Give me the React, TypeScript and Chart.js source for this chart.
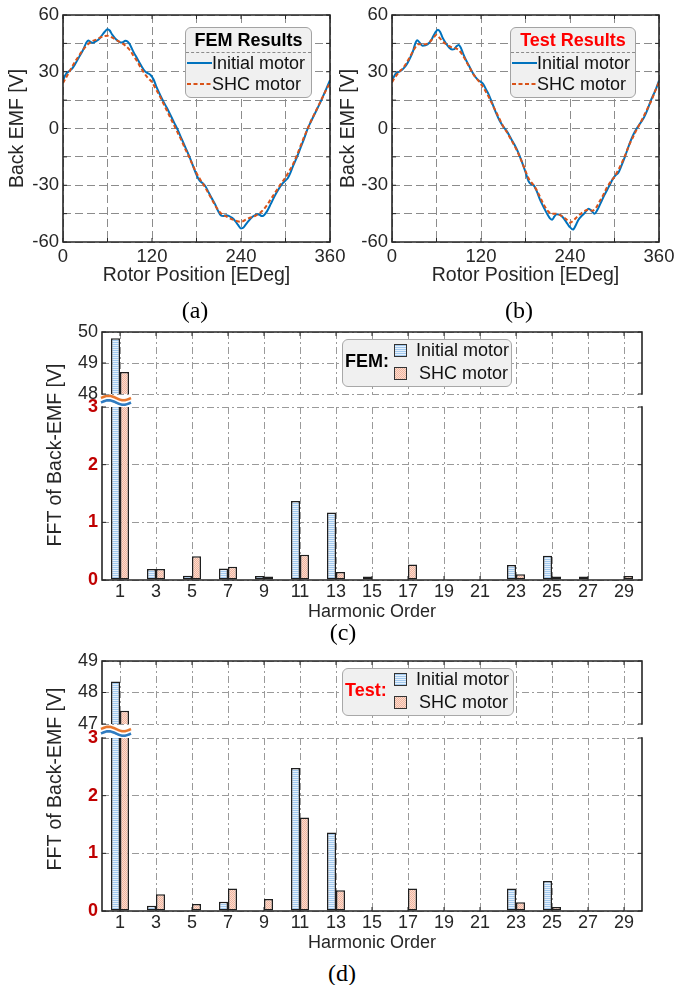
import React, { useEffect, useRef } from 'react';
import { Chart, registerables } from 'chart.js';

Chart.register(...registerables);

const SANS = '"Liberation Sans", Arial, Helvetica, sans-serif';
const SERIF = '"Liberation Serif", "Times New Roman", Times, serif';
const TEXT = '#262626';
const BLUE = '#0072BD';
const ORANGE = '#D95319';
const LOW_RED = '#C00000';
const GRID_A = '#8c8c8c';
const GRID_C = '#9a9a9a';
const BAR_EDGE = '#1f1f1f';

type Pt = [number, number];

// ---------- series names ----------
const seriesNames = ['Initial motor', 'SHC motor'];

// ---------- (a) FEM back-EMF vs rotor position [EDeg, V] ----------
const femInitialCurve: Pt[] = [
  [0, 25.5], [4, 28.8], [8, 30.2], [12, 31.5], [17, 34.5], [22, 38], [27, 41.5], [31, 45], [34, 46.5],
  [37, 45.8], [40, 45.3], [44, 46], [48, 47], [52, 49], [56, 51], [60, 52.5], [63, 51.8], [66, 49.8],
  [70, 47.8], [74, 46.3], [78, 45.4], [81, 45.6], [84, 46.4], [87, 46], [90, 44.5], [95, 40.5], [100, 37],
  [105, 33.5], [110, 30.5], [114, 29.3], [118, 28.3], [122, 26], [126, 22], [130, 18.5], [135, 14.5],
  [140, 11], [145, 7], [150, 3], [155, -1], [160, -5.5], [165, -10], [170, -14.5], [175, -19.5], [180, -24.5],
  [184, -27.5], [188, -28.8], [192, -30.5], [196, -33.5], [200, -36.5], [205, -40], [209, -43.5], [213, -46],
  [216, -46.3], [220, -45.8], [224, -46.3], [228, -47.2], [232, -48.8], [236, -51], [240, -52.8], [243, -52.5],
  [246, -51], [250, -49], [254, -47.2], [258, -46], [262, -45.3], [265, -45.6], [268, -46.3], [271, -45.8],
  [275, -43.8], [280, -40], [285, -36], [290, -32.5], [295, -29.5], [300, -27.5], [303, -26.3], [306, -24],
  [310, -20], [315, -15.5], [320, -10.5], [325, -5.5], [330, 0], [335, 4.2], [340, 8.2], [345, 12.2],
  [350, 16.5], [355, 21], [360, 25.5],
];
const femShcCurve: Pt[] = [
  [0, 24], [5, 27.5], [10, 31], [15, 34.5], [20, 37.5], [25, 40.5], [30, 43], [35, 45], [40, 46.3], [45, 47],
  [50, 48], [55, 48.8], [60, 49], [65, 48.3], [70, 47.3], [75, 46], [80, 45], [85, 43.5], [90, 41.5],
  [95, 38.5], [100, 35.5], [105, 32], [110, 29], [115, 26.5], [120, 24.5], [125, 21], [130, 17.5],
  [135, 13.5], [140, 9.5], [145, 5.5], [150, 1.5], [155, -2.5], [160, -6.5], [165, -11], [170, -15],
  [175, -19.5], [180, -23.5], [185, -27], [190, -30], [195, -33.5], [200, -37], [205, -40.5], [210, -43.5],
  [215, -45.5], [220, -46.5], [225, -47.5], [230, -48.3], [235, -49], [240, -49.3], [245, -48.5],
  [250, -47.5], [255, -46.8], [260, -46], [265, -44.8], [270, -43], [275, -40.5], [280, -37.5],
  [285, -34.5], [290, -31.5], [295, -28.5], [300, -26], [305, -22.5], [310, -19], [315, -14.5], [320, -9.5],
  [325, -4.5], [330, 0], [335, 4.5], [340, 8.5], [345, 12.5], [350, 16.5], [355, 20.5], [360, 24],
];

// ---------- (b) Test back-EMF vs rotor position ----------
const testInitialCurve: Pt[] = [
  [0, 25.3], [5, 29], [10, 30], [15, 31.5], [20, 34], [24, 37], [28, 40.5], [31, 44.5], [34, 46.7],
  [37, 45.5], [41, 43.8], [45, 44], [50, 45.2], [54, 47.5], [58, 50.5], [62, 52.2], [65, 51], [68, 48.2],
  [72, 45.5], [77, 42.8], [81, 41.8], [84, 42], [87, 43.5], [90, 44.2], [93, 42.5], [96, 39.5], [100, 36],
  [104, 33], [108, 30], [112, 27.5], [116, 25.7], [120, 24.6], [123, 23.5], [127, 20.5], [131, 17.4],
  [135, 13.5], [140, 8.5], [145, 4.2], [150, 1], [155, -1.5], [160, -5], [165, -8.5], [170, -12.5],
  [175, -17.5], [180, -23], [184, -27.8], [188, -29.5], [191, -30], [195, -33], [200, -38], [205, -42],
  [209, -45], [213, -47.5], [216, -48.2], [219, -46.5], [222, -45.3], [226, -45.5], [230, -46.8],
  [235, -49.5], [239, -51.8], [244, -53.4], [248, -51], [251, -48.5], [255, -46.5], [259, -45], [262, -43.5],
  [265, -42.4], [269, -43.5], [273, -45], [277, -43], [281, -39.7], [286, -35.5], [292, -31], [298, -26.5],
  [302, -24.5], [305, -23.5], [309, -20], [314, -15], [318, -10.5], [323, -5.4], [327, -2], [331, 0.7],
  [336, 3.5], [340, 6], [345, 10.5], [349, 14.8], [355, 20], [360, 25.3],
];
const testShcCurve: Pt[] = [
  [0, 24.5], [5, 27.5], [10, 30], [15, 32], [20, 35], [25, 38.5], [30, 42], [35, 44.5], [40, 44.5],
  [45, 44.5], [50, 45.5], [55, 47.5], [60, 49.5], [65, 47.5], [70, 45.5], [75, 44], [80, 43], [85, 42.5],
  [90, 41.5], [95, 39], [100, 35.5], [105, 32], [110, 28.5], [115, 26], [120, 23.5], [125, 20.5], [130, 17],
  [135, 13], [140, 9], [145, 5], [150, 1], [155, -2], [160, -5.5], [165, -9], [170, -13], [175, -17.5],
  [180, -22.5], [185, -27], [190, -29.5], [195, -32.5], [200, -36.5], [205, -40.5], [210, -43.5], [215, -45],
  [220, -45], [225, -45.5], [230, -46.5], [235, -48], [240, -49.8], [245, -48.5], [250, -46.5], [255, -45],
  [260, -43.5], [265, -43], [270, -43.5], [275, -42], [280, -38.5], [285, -35], [290, -31], [295, -28],
  [300, -25.5], [305, -22], [310, -18], [315, -13.5], [320, -8.5], [325, -4.5], [330, -0.5], [335, 3],
  [340, 7], [345, 11], [350, 15], [355, 20], [360, 24.5],
];

const emfTickLabels = [-60, -30, 0, 30, 60];
const posTickLabels = [0, 120, 240, 360];

// ---------- (c)/(d) harmonic spectra ----------
const harmonicOrders = ['1', '3', '5', '7', '9', '11', '13', '15', '17', '19', '21', '23', '25', '27', '29'];
const fftFemInitial = [49.8, 0.19, 0.075, 0.2, 0.07, 1.37, 1.17, 0.06, 0, 0, 0, 0.26, 0.42, 0.06, 0];
const fftFemShc = [48.71, 0.19, 0.41, 0.23, 0.06, 0.44, 0.14, 0, 0.27, 0, 0, 0.1, 0.06, 0, 0.07];
const fftTestInitial = [48.35, 0.09, 0, 0.16, 0, 2.48, 1.36, 0, 0, 0, 0, 0.39, 0.52, 0, 0];
const fftTestShc = [47.42, 0.29, 0.12, 0.39, 0.21, 1.62, 0.36, 0, 0.39, 0, 0, 0.15, 0.07, 0, 0];
const fftLowerTicks = [0, 1, 2, 3];
const fftFemUpperTicks = [48, 49, 50];
const fftTestUpperTicks = [47, 48, 49];

// ---------- helpers ----------
const toXY = (c: Pt[]) => c.map(([x, y]) => ({ x, y }));
const zeroPad = (s: any) => {
  s.paddingLeft = 0; s.paddingRight = 0; s.paddingTop = 0; s.paddingBottom = 0;
};

function makePatterns() {
  const mk = (w: number, h: number, draw: (g: CanvasRenderingContext2D) => void) => {
    const c = document.createElement('canvas');
    c.width = w; c.height = h;
    const g = c.getContext('2d')!;
    draw(g);
    return g.createPattern(c, 'repeat')!;
  };
  const blue = mk(4, 2, (g) => {
    g.fillStyle = '#e6f1fc'; g.fillRect(0, 0, 4, 2);
    g.fillStyle = '#a2c9ee'; g.fillRect(0, 0, 4, 1);
  });
  const pink = mk(2, 2, (g) => {
    g.fillStyle = '#fcdccf'; g.fillRect(0, 0, 2, 2);
    g.fillStyle = '#efb49e'; g.fillRect(0, 0, 1, 1); g.fillRect(1, 1, 1, 1);
  });
  return { blue, pink };
}

function framePlugin(sides: { top?: boolean; right?: boolean; bottom?: boolean; left?: boolean }, tickLen = 4) {
  return {
    id: 'frame',
    afterDatasetsDraw(chart: any) {
      const { ctx, chartArea: a, scales } = chart;
      ctx.save();
      ctx.setLineDash([]);
      ctx.strokeStyle = TEXT;
      ctx.lineWidth = 1;
      ctx.beginPath();
      const xs = scales.x;
      xs.ticks.forEach((_: any, i: number) => {
        const px = xs.getPixelForTick(i);
        if (sides.bottom) { ctx.moveTo(px, a.bottom); ctx.lineTo(px, a.bottom - tickLen); }
        if (sides.top) { ctx.moveTo(px, a.top); ctx.lineTo(px, a.top + tickLen); }
      });
      const ys = scales.y;
      ys.ticks.forEach((_: any, i: number) => {
        const py = ys.getPixelForTick(i);
        if (sides.left) { ctx.moveTo(a.left, py); ctx.lineTo(a.left + tickLen, py); }
        if (sides.right) { ctx.moveTo(a.right, py); ctx.lineTo(a.right - tickLen, py); }
      });
      ctx.stroke();
      ctx.lineWidth = 1.6;
      ctx.lineCap = 'square';
      ctx.beginPath();
      if (sides.top) { ctx.moveTo(a.left, a.top); ctx.lineTo(a.right, a.top); }
      if (sides.bottom) { ctx.moveTo(a.left, a.bottom); ctx.lineTo(a.right, a.bottom); }
      if (sides.left) { ctx.moveTo(a.left, a.top); ctx.lineTo(a.left, a.bottom); }
      if (sides.right) { ctx.moveTo(a.right, a.top); ctx.lineTo(a.right, a.bottom); }
      ctx.stroke();
      ctx.restore();
    },
  };
}

// axis-break symbol drawn in the gap above the lower panel
const breakPlugin = {
  id: 'axisBreak',
  afterDraw(chart: any) {
    const { ctx, chartArea: a } = chart;
    const x0 = a.left - 1;
    const len = 30;
    const amp = 2.2;
    const wave = (cy: number, color: string) => {
      ctx.beginPath();
      for (let i = 0; i <= 40; i++) {
        const t = i / 40;
        const x = x0 + len * t;
        const y = cy - amp * Math.sin(2 * Math.PI * t);
        if (i === 0) ctx.moveTo(x, y); else ctx.lineTo(x, y);
      }
      ctx.strokeStyle = color;
      ctx.lineWidth = 2.6;
      ctx.stroke();
    };
    ctx.save();
    ctx.setLineDash([]);
    ctx.lineCap = 'butt';
    wave(a.top - 9, '#E8772E');
    wave(a.top - 4.5, '#2F7BC0');
    ctx.restore();
  },
};

function emfConfig(initial: Pt[], shc: Pt[], yAxisWidth: number, yTitlePad: number, rightPad: number) {
  return {
    type: 'line',
    data: {
      datasets: [
        { label: seriesNames[0], data: toXY(initial), borderColor: BLUE, borderWidth: 2, pointRadius: 0, cubicInterpolationMode: 'monotone', order: 1 },
        { label: seriesNames[1], data: toXY(shc), borderColor: ORANGE, borderWidth: 2, borderDash: [4, 2.5], pointRadius: 0, cubicInterpolationMode: 'monotone', order: 0 },
      ],
    },
    options: {
      animation: false,
      responsive: false,
      devicePixelRatio: 1,
      events: [],
      layout: { padding: { left: 0, top: 12, right: rightPad, bottom: 0 } },
      plugins: { legend: { display: false }, tooltip: { enabled: false } },
      scales: {
        x: {
          type: 'linear',
          min: posTickLabels[0],
          max: posTickLabels[posTickLabels.length - 1],
          afterFit: (s: any) => { s.height = 48; zeroPad(s); },
          grid: { color: GRID_A, lineWidth: 1, drawTicks: false },
          border: { display: false, dash: [8, 4] },
          ticks: {
            stepSize: 60, autoSkip: false, maxRotation: 0, padding: 4, color: TEXT,
            font: { family: SANS, size: 18.5 },
            callback: (v: number) => (posTickLabels.includes(v) ? String(v) : ''),
          },
          title: { display: true, text: 'Rotor Position [EDeg]', color: TEXT, font: { family: SANS, size: 19.5 }, padding: { top: 0, bottom: 3 } },
        },
        y: {
          min: emfTickLabels[0],
          max: emfTickLabels[emfTickLabels.length - 1],
          afterFit: (s: any) => { s.width = yAxisWidth; zeroPad(s); },
          grid: { color: GRID_A, lineWidth: 1, drawTicks: false },
          border: { display: false, dash: [8, 4] },
          ticks: {
            stepSize: 15, padding: 4, color: TEXT,
            font: { family: SANS, size: 18.5 },
            callback: (v: number) => (emfTickLabels.includes(v) ? String(v) : ''),
          },
          title: { display: true, text: 'Back EMF [V]', color: TEXT, font: { family: SANS, size: 19.5 }, padding: { top: yTitlePad, bottom: 0 } },
        },
      },
    },
    plugins: [framePlugin({ top: true, right: true, bottom: true, left: true })],
  };
}

function fftConfig(initial: number[], shc: number[], lower: boolean, yTicks: number[]) {
  const pat = makePatterns();
  return {
    type: 'bar',
    data: {
      labels: harmonicOrders,
      datasets: [
        { label: seriesNames[0], data: initial, backgroundColor: pat.blue, borderColor: BAR_EDGE, borderWidth: 1.5, borderSkipped: false, categoryPercentage: 0.5, barPercentage: 1, clip: 0 },
        { label: seriesNames[1], data: shc, backgroundColor: pat.pink, borderColor: BAR_EDGE, borderWidth: 1.5, borderSkipped: false, categoryPercentage: 0.5, barPercentage: 1, clip: 0 },
      ],
    },
    options: {
      animation: false,
      responsive: false,
      devicePixelRatio: 1,
      events: [],
      layout: { padding: { left: 0, top: lower ? 14 : 12, right: 14, bottom: lower ? 0 : 12 } },
      plugins: { legend: { display: false }, tooltip: { enabled: false } },
      scales: {
        x: {
          type: 'category',
          offset: true,
          afterFit: (s: any) => { s.height = lower ? 45 : 0; zeroPad(s); },
          grid: { color: GRID_C, lineWidth: 1, drawTicks: false, offset: false },
          border: { display: false, dash: [7, 3, 2, 3] },
          ticks: { display: lower, padding: 1, color: TEXT, font: { family: SANS, size: 18 }, maxRotation: 0, autoSkip: false },
          title: { display: lower, text: 'Harmonic Order', color: TEXT, font: { family: SANS, size: 18 }, padding: { top: 0, bottom: 2 } },
        },
        y: {
          min: yTicks[0],
          max: yTicks[yTicks.length - 1],
          stacked: false,
          afterFit: (s: any) => { s.width = 40; zeroPad(s); },
          grid: { color: GRID_C, lineWidth: 1, drawTicks: false },
          border: { display: false, dash: [7, 3, 2, 3] },
          ticks: {
            stepSize: 1, padding: 4,
            color: lower ? LOW_RED : TEXT,
            font: { family: SANS, size: 18, weight: lower ? 'bold' : 'normal' },
            callback: (v: number) => (yTicks.includes(v) ? String(v) : ''),
          },
        },
      },
    },
    plugins: lower
      ? [framePlugin({ left: true, right: true, bottom: true }), breakPlugin]
      : [framePlugin({ left: true, right: true, top: true })],
  };
}

function ChartBox({ left, top, width, height, build }: { left: number; top: number; width: number; height: number; build: () => any }) {
  const ref = useRef<HTMLCanvasElement | null>(null);
  useEffect(() => {
    if (!ref.current) return;
    const chart = new Chart(ref.current, build());
    return () => chart.destroy();
  }, []);
  return (
    <canvas ref={ref} width={width} height={height}
      style={{ position: 'absolute', left, top, width, height, display: 'block' }} />
  );
}

function EmfLegend({ left, top, width, title, titleColor }: { left: number; top: number; width: number; title: string; titleColor: string }) {
  const txt: React.CSSProperties = { position: 'absolute', fontSize: 18, lineHeight: '22px', color: '#111', whiteSpace: 'nowrap' };
  return (
    <div style={{ position: 'absolute', left, top, width, height: 71, boxSizing: 'border-box', background: '#f0f0f0', border: '1px solid #a3a3a3', borderRadius: 6, fontFamily: SANS }}>
      <div style={{ ...txt, left: 0, right: 0, top: 1, textAlign: 'center', fontWeight: 700, color: titleColor }}>{title}</div>
      <div style={{ position: 'absolute', left: 0, right: 0, top: 24, height: 0, borderTop: '1px dashed #8a8a8a' }} />
      <svg width={25} height={8} style={{ position: 'absolute', left: 1, top: 31 }}>
        <line x1={0} y1={4} x2={25} y2={4} stroke={BLUE} strokeWidth={2} />
      </svg>
      <div style={{ ...txt, left: 26, top: 24 }}>{seriesNames[0]}</div>
      <svg width={25} height={8} style={{ position: 'absolute', left: 1, top: 52 }}>
        <line x1={0} y1={4} x2={25} y2={4} stroke={ORANGE} strokeWidth={2} strokeDasharray="4 2.5" />
      </svg>
      <div style={{ ...txt, left: 26, top: 45 }}>{seriesNames[1]}</div>
    </div>
  );
}

const blueSwatch = 'repeating-linear-gradient(180deg, #a2c9ee 0px, #a2c9ee 1px, #e6f1fc 1px, #e6f1fc 2px)';
const pinkSwatch = 'repeating-conic-gradient(#efb49e 0% 25%, #fcdccf 0% 50%) 0 0 / 2px 2px';

function FftLegend({ left, top, width, label, labelColor }: { left: number; top: number; width: number; label: string; labelColor: string }) {
  const txt: React.CSSProperties = { position: 'absolute', fontSize: 18, lineHeight: '22px', color: '#111', whiteSpace: 'nowrap' };
  const sw: React.CSSProperties = { position: 'absolute', left: 51, width: 13, height: 13, boxSizing: 'border-box', border: '1.5px solid #333' };
  return (
    <div style={{ position: 'absolute', left, top, width, height: 48, boxSizing: 'border-box', background: '#f0f0f0', border: '1px solid #a8a8a8', borderRadius: 6, fontFamily: SANS }}>
      <div style={{ ...txt, left: 2, top: 10, fontWeight: 700, color: labelColor }}>{label}</div>
      <div style={{ ...sw, top: 4, background: blueSwatch }} />
      <div style={{ ...sw, top: 27, background: pinkSwatch }} />
      <div style={{ ...txt, left: 73, top: -1 }}>{seriesNames[0]}</div>
      <div style={{ ...txt, left: 76, top: 22 }}>{seriesNames[1]}</div>
    </div>
  );
}

function Centered({ x, y, rotate, style, children }: { x: number; y: number; rotate?: boolean; style: React.CSSProperties; children: React.ReactNode }) {
  return (
    <div style={{
      position: 'absolute', left: x, top: y, whiteSpace: 'nowrap', lineHeight: 1,
      transform: `translate(-50%, -50%)${rotate ? ' rotate(-90deg)' : ''}`, ...style,
    }}>{children}</div>
  );
}

export default function App() {
  const fftTitle: React.CSSProperties = { fontFamily: SANS, fontSize: 19.5, color: TEXT };
  const caption: React.CSSProperties = { fontFamily: SERIF, fontSize: 24, color: '#000' };
  return (
    <div style={{ position: 'absolute', left: 0, top: 0, width: 674, height: 985, background: '#fff', overflow: 'hidden' }}>
      {/* (a) */}
      <ChartBox left={0} top={3} width={348} height={287} build={() => emfConfig(femInitialCurve, femShcCurve, 63, 6, 18)} />
      {/* (b) */}
      <ChartBox left={336} top={3} width={338} height={287} build={() => emfConfig(testInitialCurve, testShcCurve, 56, 1, 15)} />
      {/* (c) */}
      <ChartBox left={62} top={393} width={594} height={232} build={() => fftConfig(fftFemInitial, fftFemShc, true, fftLowerTicks)} />
      <ChartBox left={62} top={320} width={594} height={86} build={() => fftConfig(fftFemInitial, fftFemShc, false, fftFemUpperTicks)} />
      {/* (d) */}
      <ChartBox left={62} top={724} width={594} height={232} build={() => fftConfig(fftTestInitial, fftTestShc, true, fftLowerTicks)} />
      <ChartBox left={62} top={649} width={594} height={87} build={() => fftConfig(fftTestInitial, fftTestShc, false, fftTestUpperTicks)} />

      <EmfLegend left={185} top={27} width={127} title="FEM Results" titleColor="#000" />
      <EmfLegend left={510} top={27} width={126} title="Test Results" titleColor="#FF0000" />
      <FftLegend left={342} top={339} width={170} label="FEM:" labelColor="#000" />
      <FftLegend left={342} top={668} width={172} label="Test:" labelColor="#FF0000" />

      <Centered x={55} y={455} rotate style={fftTitle}>FFT of Back-EMF [V]</Centered>
      <Centered x={55} y={779} rotate style={fftTitle}>FFT of Back-EMF [V]</Centered>

      <Centered x={195} y={310} style={caption}>(a)</Centered>
      <Centered x={519} y={310} style={caption}>(b)</Centered>
      <Centered x={343} y={632} style={caption}>(c)</Centered>
      <Centered x={342} y={973} style={caption}>(d)</Centered>
    </div>
  );
}
